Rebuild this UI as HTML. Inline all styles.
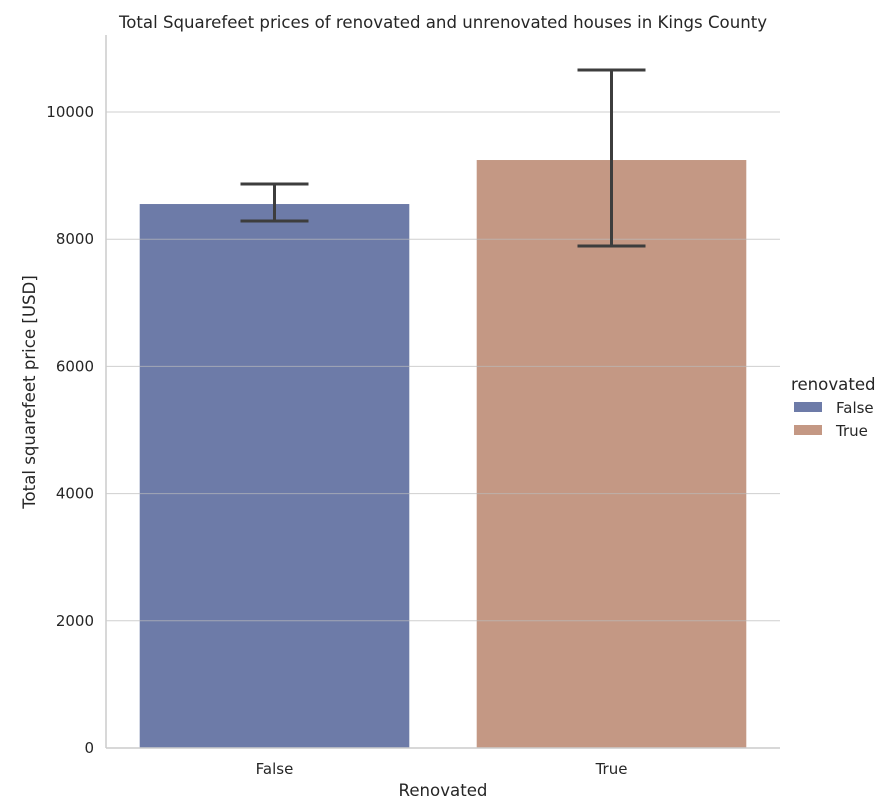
<!DOCTYPE html>
<html><head><meta charset="utf-8"><style>
body{margin:0;background:#fff;font-family:"DejaVu Sans","Liberation Sans",sans-serif;}
</style></head><body>
<svg id="chart" width="884" height="808" viewBox="0 0 884 808" font-family="DejaVu Sans, Liberation Sans, sans-serif">
<g id="grid"></g>
<g id="bars"></g>
<g id="axes"></g>
<text x="443" y="28" font-size="16.6" fill="#262626" text-anchor="middle">Total Squarefeet prices of renovated and unrenovated houses in Kings County</text>
<text x="443" y="796" font-size="16.6" fill="#262626" text-anchor="middle">Renovated</text>
<text transform="translate(35,392) rotate(-90)" font-size="16.6" fill="#262626" text-anchor="middle">Total squarefeet price [USD]</text>
<g>
<text x="791" y="390" font-size="16.6" fill="#262626">renovated</text>
<g><rect x="794" y="402" width="28" height="10" fill="#6d7ba8"/><text x="836" y="413" font-size="15" fill="#262626">False</text></g>
<g><rect x="794" y="425" width="28" height="10" fill="#c49884"/><text x="836" y="436" font-size="15" fill="#262626">True</text></g>
</g>
</svg>
<script>
const categories=["False","True"];
const values=[8553,9245];
const errLow=[8286,7893];
const errHigh=[8868,10660];
const yTicks=[0,2000,4000,6000,8000,10000];
const colors=["#6d7ba8","#c49884"];
const NS="http://www.w3.org/2000/svg";
const L=106,R=780,T=35,B=748;
const y=v=>B-v*(127.2/2000);
const band=(R-L)/categories.length;
const x=i=>L+band*i+band/2;
function mk(tag,attrs,parent){const e=document.createElementNS(NS,tag);for(const k in attrs)e.setAttribute(k,attrs[k]);parent.appendChild(e);return e;}
const grid=document.getElementById('grid'),bars=document.getElementById('bars'),axes=document.getElementById('axes');
const bw=band*0.8;
categories.forEach((c,i)=>{
  const r=mk('rect',{x:x(i)-bw/2,y:y(values[i]),width:bw,height:B-y(values[i]),fill:colors[i]},bars);
  
  
});
yTicks.forEach(t=>{
  const g=mk('line',{x1:L,x2:R,y1:y(t),y2:y(t),stroke:'#bbbbbb','stroke-opacity':0.7,'stroke-width':1},bars);
  
  
  const tx=mk('text',{x:L-12,y:y(t)+5,'font-size':15,fill:'#262626','text-anchor':'end'},axes);
  tx.textContent=t;
  
  
});
categories.forEach((c,i)=>{
  const eg=mk('g',{stroke:'#3d3d3d','stroke-width':3,fill:'none'},axes);
  
  
  mk('line',{x1:x(i),x2:x(i),y1:y(errLow[i]),y2:y(errHigh[i])},eg);
  mk('line',{x1:x(i)-34,x2:x(i)+34,y1:y(errLow[i]),y2:y(errLow[i])},eg);
  mk('line',{x1:x(i)-34,x2:x(i)+34,y1:y(errHigh[i]),y2:y(errHigh[i])},eg);
  const tx=mk('text',{x:x(i),y:B+26,'font-size':15,fill:'#262626','text-anchor':'middle'},axes);
  tx.textContent=c;
  
  
});
const ya=mk('line',{x1:L,x2:L,y1:T,y2:B,stroke:'#cccccc','stroke-width':1.5},axes);


const xa=mk('line',{x1:L,x2:R,y1:B,y2:B,stroke:'#cccccc','stroke-width':1.5},axes);


</script>
</body></html>
